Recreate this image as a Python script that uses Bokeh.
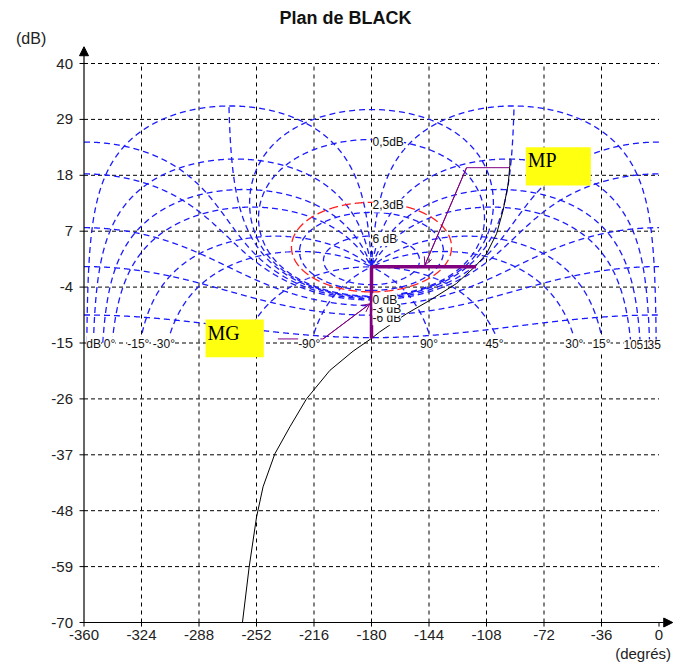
import numpy as np
from bokeh.plotting import figure
from bokeh.models import Range1d, ColumnDataSource, LabelSet, Arrow, OpenHead, NormalHead
from bokeh.embed import file_html
from bokeh.resources import INLINE
from bokeh.core.properties import value

# ---------------- data ----------------
x_ticks = [-360, -324, -288, -252, -216, -180, -144, -108, -72, -36, 0]
y_ticks = [40, 29, 18, 7, -4, -15, -26, -37, -48, -59, -70]

# Nichols grid: closed-loop magnitude contours (dB) and closed-loop phase contours (deg)
m_contours_db = [6, 3, 0.5, 0.25, 0, -0.5, -1, -3, -6, -12]
m_highlight_db = [2.3]
phase_contours_deg = [-1.5, -5, -10, -15, -30, -45, -90, -135]
grid_min_db = -15
grid_max_db = 32

m_labels = ["0,5dB", "2,3dB", "6 dB", "-6 dB", "-3 dB", "0 dB"]
m_label_values = [0.5, 2.3, 6, -6, -3, 0]

phase_label_text = ["dB", "0°", "-15°", "-30°", "-90°", "90°", "45°", "30°", "15°", "10", "5", "1", "35"]
phase_label_x = [-354, -344, -326, -310, -219, -144, -103, -53, -36, -18, -12, -8, -3]

# open-loop transfer locus
ol_phase = [-260.8, -256.6, -252.0, -247.9, -240.5, -231.1, -220.7, -206.1, -191.5,
            -180.0, -174.8, -158.1, -143.5, -126.8, -115.3, -108.0, -101.7, -97.6,
            -94.4, -93.4, -93.3]
ol_gain = [-70.0, -59.1, -49.3, -43.3, -36.8, -31.5, -26.0, -20.4, -16.6,
           -14.1, -12.8, -9.25, -6.6, -3.3, 0.0, 2.55, 6.5, 11.1,
           16.3, 19.9, 21.3]

# margins
mg_phase, mg_gain = -180.0, -14.1      # phase crossover
mp_phase, mp_gain = -114.5, 0.0        # gain crossover

# annotation boxes (deg, dB)
mg_box = dict(x0=-283.9, x1=-247.4, y0=-17.8, y1=-10.4)
mp_box = dict(x0=-83.4, x1=-42.7, y0=16.0, y1=23.5)
mg_pointer_x = [-238.6, -210.3, -181.0]
mg_pointer_y = [-14.2, -14.2, -7.3]
mp_pointer_x = [-93.4, -120.5, -146.6]
mp_pointer_y = [19.5, 19.5, 0.3]

# ---------------- geometry helpers ----------------
def clip(db):
    return np.where((db < grid_min_db) | (db > grid_max_db), np.nan, db)


def m_contour(mdb):
    M = 10 ** (mdb / 20.0)
    if abs(M - 1) < 1e-9:
        th = np.linspace(-269.95, -90.05, 3000)
        c = np.cos(np.radians(th))
        g = -1.0 / (2 * c)
        ph = th
    elif M < 1:
        th = np.linspace(-360, 0, 2000)
        c = np.cos(np.radians(th))
        g = (M * M * c + M * np.sqrt(M * M * c * c + 1 - M * M)) / (1 - M * M)
        ph = th
    else:
        psi = np.radians(np.linspace(-180, 180, 4000))
        T = M * np.exp(1j * psi)
        G = T / (1 - T)
        ph = np.degrees(np.angle(G)) % 360 - 360
        g = np.abs(G)
    return list(ph), list(clip(20 * np.log10(g)))


def phase_contour(psi_deg):
    M = np.unique(np.concatenate([np.logspace(-3, 3, 4000), np.linspace(0.8, 1.3, 3000)]))
    T = M * np.exp(1j * np.radians(psi_deg))
    G = T / (1 - T)
    ph = np.degrees(np.angle(G))
    return ph, clip(20 * np.log10(np.abs(G)))


def m_gain_at_180(mdb):
    M = 10 ** (mdb / 20.0)
    if M > 1:
        return 20 * np.log10(M / (M - 1))
    return 20 * np.log10(M / (1 + M))

# ---------------- figure ----------------
W, H = 674, 662
sx = 575.0 / 360.0
sy = 559.0 / 110.0
x0 = -360 - 83.5 / sx
y1 = 40 + 63.0 / sy
p = figure(width=W, height=H, output_backend="svg", toolbar_location=None,
           x_range=Range1d(x0, x0 + W / sx), y_range=Range1d(y1 - H / sy, y1),
           min_border=0, min_border_left=0, min_border_right=0,
           min_border_top=0, min_border_bottom=0)
p.axis.visible = False
p.grid.visible = False
p.outline_line_color = None
p.background_fill_color = "white"

FONT = value("Liberation Sans")

# black dashed grid
vx = x_ticks[1:-1]
p.segment(x0=vx, y0=[y_ticks[-1]] * len(vx), x1=vx, y1=[y_ticks[0]] * len(vx),
          line_color="black", line_dash="4 4", line_width=1)
hy = y_ticks[:-1]
p.segment(x0=[x_ticks[0]] * len(hy), y0=hy, x1=[x_ticks[-1]] * len(hy), y1=hy,
          line_color="black", line_dash="4 3", line_width=1)

# blue Nichols grid
xs, ys = [], []
for m in m_contours_db:
    a, b = m_contour(m)
    xs.append(a); ys.append(b)
for psi in phase_contours_deg:
    a, b = phase_contour(psi)
    xs.append(list(a)); ys.append(list(b))
    xs.append(list(-360 - a)); ys.append(list(b))
p.multi_line(xs=xs, ys=ys, line_color="#1a1aff", line_dash="6 4", line_width=1.3)

# highlighted contour
for m in m_highlight_db:
    a, b = m_contour(m)
    p.line(a, b, line_color="#ff2020", line_dash="9 4", line_width=1.3)

# contour labels
lab_src = ColumnDataSource(dict(x=[-180] * len(m_labels),
                                y=[m_gain_at_180(v) for v in m_label_values],
                                t=m_labels))
p.add_layout(LabelSet(x="x", y="y", text="t", source=lab_src, x_offset=1, y_offset=-3,
                      text_font=FONT, text_font_size="12px", text_color="#111111",
                      background_fill_color="white", text_baseline="middle"))
ph_src = ColumnDataSource(dict(x=phase_label_x, y=[grid_min_db] * len(phase_label_x),
                               t=phase_label_text))
p.add_layout(LabelSet(x="x", y="y", text="t", source=ph_src, y_offset=-1,
                      text_font=FONT, text_font_size="12px", text_color="#111111",
                      text_align="center", text_baseline="middle",
                      background_fill_color="white"))

# axes lines with arrows
p.add_layout(Arrow(x_start=-360, y_start=-70, x_end=-360, y_end=43.3, line_width=1.2,
                   end=NormalHead(size=9, fill_color="black", line_color="black")))
p.add_layout(Arrow(x_start=-360, y_start=-70, x_end=8.6, y_end=-70, line_width=1.2,
                   end=NormalHead(size=9, fill_color="black", line_color="black")))
# tick marks
p.segment(x0=[-360] * len(y_ticks), y0=y_ticks, x1=[-362.8] * len(y_ticks), y1=y_ticks,
          line_color="black")
p.segment(x0=x_ticks, y0=[-70] * len(x_ticks), x1=x_ticks, y1=[-70.8] * len(x_ticks),
          line_color="black")
# tick labels
p.text(x=[-360] * len(y_ticks), y=y_ticks, text=[str(v) for v in y_ticks],
       x_offset=-11, text_align="right", text_baseline="middle",
       text_font=FONT, text_font_size="15px", text_color="#222222")
p.text(x=x_ticks, y=[-70] * len(x_ticks), text=[str(v) for v in x_ticks],
       y_offset=12, text_align="center", text_baseline="middle",
       text_font=FONT, text_font_size="15px", text_color="#222222")
p.text(x=[-360], y=[40], text=["(dB)"], x_offset=-68, y_offset=-25, text_align="left",
       text_baseline="middle", text_font=FONT, text_font_size="16px", text_color="#222222")
p.text(x=[0], y=[-70], text=["(degrés)"], x_offset=12, y_offset=31, text_align="right",
       text_baseline="middle", text_font=FONT, text_font_size="15px", text_color="#222222")
p.text(x=[-180], y=[40], text=["Plan de BLACK"], x_offset=-26, y_offset=-46, text_align="center",
       text_baseline="middle", text_font=FONT, text_font_size="18px", text_font_style="bold",
       text_color="#111111")

# open-loop locus
p.line(ol_phase, ol_gain, line_color="black", line_width=1)

# margins
p.line([mg_phase, mg_phase, mp_phase], [mg_gain, mp_gain, mp_gain],
       line_color="#800080", line_width=3.5)

# pointers
p.line(mg_pointer_x, mg_pointer_y, line_color="#800080", line_width=1)
p.add_layout(Arrow(x_start=mg_pointer_x[-2], y_start=mg_pointer_y[-2],
                   x_end=mg_pointer_x[-1], y_end=mg_pointer_y[-1], line_color="#800080",
                   end=OpenHead(size=8, line_color="#800080", line_width=1)))
p.line(mp_pointer_x, mp_pointer_y, line_color="#800080", line_width=1)
p.add_layout(Arrow(x_start=mp_pointer_x[-2], y_start=mp_pointer_y[-2],
                   x_end=mp_pointer_x[-1], y_end=mp_pointer_y[-1], line_color="#800080",
                   end=OpenHead(size=8, line_color="#800080", line_width=1)))

# yellow boxes
for bx, txt in ((mg_box, "MG"), (mp_box, "MP")):
    p.quad(left=[bx["x0"]], right=[bx["x1"]], bottom=[bx["y0"]], top=[bx["y1"]],
           fill_color="#ffff10", line_color=None)
    p.text(x=[bx["x0"]], y=[bx["y1"]], text=[txt], x_offset=2, y_offset=2,
           text_align="left", text_baseline="top", text_font=value("Liberation Serif"),
           text_font_size="20px", text_color="black")

open("out.html", "w").write(file_html(p, INLINE))
